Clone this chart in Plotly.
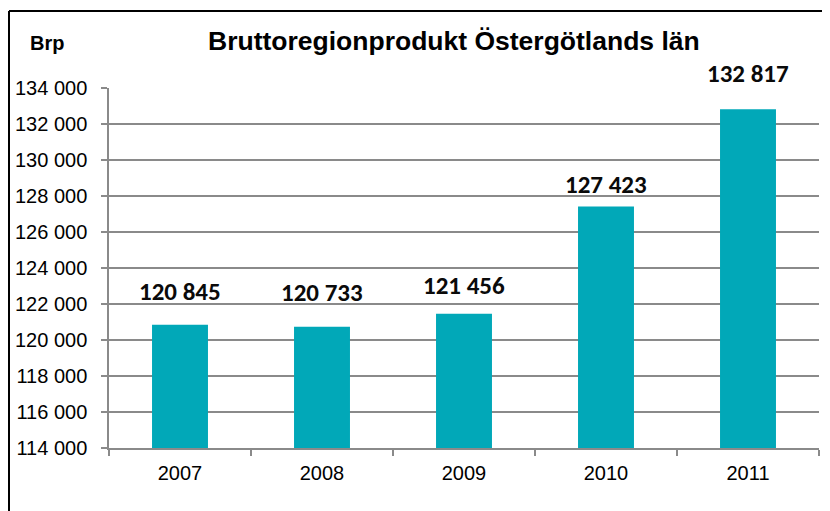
import plotly.graph_objects as go

years = ["2007", "2008", "2009", "2010", "2011"]
brp = [120845, 120733, 121456, 127423, 132817]
y_ticks = list(range(114000, 134001, 2000))

title_text = "Bruttoregionprodukt Östergötlands län"
unit_text = "Brp"

# pixel offsets of value labels above bar tops (styling only)
label_shift = [33, 34, 28, 22, 36]

bar_color = "#01A8B8"
axis_color = "#8A8A8A"

# page body margin offsets the figure by 8 px
OFF = 8
W, H = 830, 511
# target plot area in screen pixels: x 109..819, y 88..448
L, R = 109 - OFF, W - (819 - OFF)
T, B = 88 - OFF, H - (448 - OFF)
pw, ph = W - L - R, H - T - B

def px_x(p):
    return (p - OFF - L) / pw

def px_y(p):
    return (448 - p) / ph

fig = go.Figure()
fig.add_trace(go.Bar(x=years, y=brp, marker=dict(color=bar_color, line=dict(width=0)),
                     hoverinfo="x+y"))

annotations = []
for i, (v, s) in enumerate(zip(brp, label_shift)):
    annotations.append(dict(
        x=i, y=v, xref="x", yref="y", text=f"{v:,}".replace(",", " "),
        showarrow=False, yanchor="middle", yshift=s,
        font=dict(family="Carlito, Lato", size=25, color="#0A0A0A", weight="bold"),
    ))
annotations.append(dict(
    x=px_x(453.5), y=px_y(41), xref="paper", yref="paper", text=f"<b>{title_text}</b>",
    showarrow=False, xanchor="center", yanchor="middle",
    font=dict(family="Liberation Sans, Arial", size=26.5, color="#000000"),
))
annotations.append(dict(
    x=px_x(46.5), y=px_y(42.5), xref="paper", yref="paper", text=f"<b>{unit_text}</b>",
    showarrow=False, xanchor="center", yanchor="middle",
    font=dict(family="Liberation Sans, Arial", size=20, color="#000000"),
))

shapes = [
    dict(type="line", xref="paper", yref="paper", x0=px_x(9), x1=px_x(840), y0=px_y(11), y1=px_y(11),
         line=dict(color="#000000", width=2)),
    dict(type="line", xref="paper", yref="paper", x0=px_x(9), x1=px_x(9), y0=px_y(11), y1=px_y(520),
         line=dict(color="#000000", width=2)),
]

fig.update_layout(
    width=W, height=H,
    margin=dict(l=L, r=R, t=T, b=B, autoexpand=False),
    paper_bgcolor="white", plot_bgcolor="white",
    separators=", ",
    bargap=0.606,
    showlegend=False,
    annotations=annotations,
    shapes=shapes,
    font=dict(family="Liberation Sans, Arial", size=20, color="#000000"),
)
fig.update_xaxes(
    type="category", range=[-0.5, len(years) - 0.5], autorange=False,
    showline=True, linecolor=axis_color, linewidth=1.5,
    ticks="outside", tickson="boundaries", ticklen=6, tickcolor=axis_color, tickwidth=1.5,
    showgrid=False, tickangle=0, tickfont=dict(size=20, color="#000000"), ticklabelstandoff=6,
)
fig.update_yaxes(
    range=[114000, 134000], autorange=False, tickvals=y_ticks, tickformat=",d",
    showline=True, linecolor=axis_color, linewidth=1.5,
    ticks="outside", ticklen=6, tickcolor=axis_color, tickwidth=1.5,
    showgrid=True, gridcolor=axis_color, gridwidth=1.5, zeroline=False,
    tickfont=dict(size=20, color="#000000"), ticklabelstandoff=10,
)

fig.write_html("out.html")
